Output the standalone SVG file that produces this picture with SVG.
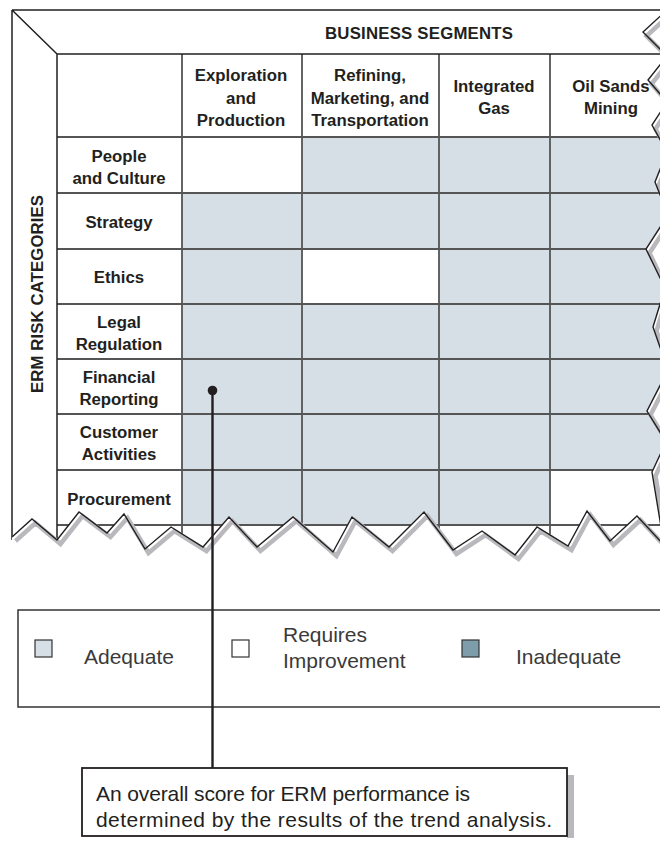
<svg xmlns="http://www.w3.org/2000/svg" width="660" height="851" viewBox="0 0 660 851">
<style>
.b{font-family:"Liberation Sans",Arial,sans-serif;font-weight:bold;font-size:16.8px;fill:#231f20;text-anchor:middle}
.l{font-family:"Liberation Sans",Arial,sans-serif;font-size:21px;fill:#3a3a3a}
.c{font-family:"Liberation Sans",Arial,sans-serif;font-size:21px;fill:#231f20}
.blue{fill:#d5dfe5}
.grid{stroke:#555;stroke-width:1.8;fill:none}
.frame{stroke:#231f20;stroke-width:1.5;fill:none}
.shadow{stroke:#b9b9bd;stroke-width:4.5;fill:none;stroke-linejoin:miter}
.tear{stroke:#231f20;stroke-width:1.4;fill:none;stroke-linejoin:miter}
</style>
<defs>
<path id="tearPath" d="M667,10 L643,32 L667,56 L648,80 L667,102 L652,125 L667,152 L655,182 L668,215 L646,249 L665,288 L653,327 L668,370 L647,411 L666,442 L652,472 L664,545 L637,516 L610,541 L587,511 L568,546 L537,527 L515,555 L482,531 L453,550 L424,512 L389,547 L352,517 L333,552 L293,517 L257,547 L229,517 L203,547 L171,527 L145,549 L124,514 L107,533 L79,512 L57,540 L32,519 L12,537"/>
</defs>
<rect x="0" y="0" width="660" height="851" fill="#fff"/>

<g id="cells">
<rect class="blue" x="302" y="137" width="368" height="56"/>
<rect class="blue" x="182" y="193" width="488" height="56"/>
<rect class="blue" x="182" y="249" width="120" height="55"/>
<rect class="blue" x="439" y="249" width="231" height="55"/>
<rect class="blue" x="182" y="304" width="488" height="166"/>
<rect class="blue" x="182" y="470" width="368" height="55"/>
</g>

<g id="grid">
<path class="grid" d="M182,54 V565 M302,54 V565 M439,54 V565 M550,54 V565"/>
<path class="grid" d="M57,137 H670 M57,193 H670 M57,249 H670 M57,304 H670 M57,359 H670 M57,414 H670 M57,470 H670 M57,525 H670"/>
</g>

<g id="frame">
<path class="frame" d="M12,10 H670 M12,10 V540 M57,54 V565 M57,54 H670 M12,10 L57,54"/>
</g>

<g id="header">
<text class="b" x="419" y="38.5" textLength="188">BUSINESS SEGMENTS</text>
<text class="b" x="241" y="81">Exploration</text>
<text class="b" x="241" y="103.5">and</text>
<text class="b" x="241" y="126">Production</text>
<text class="b" x="370" y="81">Refining,</text>
<text class="b" x="370" y="103.5">Marketing, and</text>
<text class="b" x="370" y="126">Transportation</text>
<text class="b" x="494" y="92">Integrated</text>
<text class="b" x="494" y="114">Gas</text>
<text class="b" x="611" y="92">Oil Sands</text>
<text class="b" x="611" y="114">Mining</text>
</g>

<g id="row-labels">
<text class="b" x="119" y="162">People</text>
<text class="b" x="119" y="184">and Culture</text>
<text class="b" x="119" y="228">Strategy</text>
<text class="b" x="119" y="283">Ethics</text>
<text class="b" x="119" y="328">Legal</text>
<text class="b" x="119" y="350">Regulation</text>
<text class="b" x="119" y="383">Financial</text>
<text class="b" x="119" y="405">Reporting</text>
<text class="b" x="119" y="438">Customer</text>
<text class="b" x="119" y="460">Activities</text>
<text class="b" x="119" y="505">Procurement</text>
<text class="b" x="0" y="0" font-size="17" textLength="198" transform="translate(42.5,294) rotate(-90)">ERM RISK CATEGORIES</text>
</g>

<g id="tear">
<path d="M667,10 L643,32 L667,56 L648,80 L667,102 L652,125 L667,152 L655,182 L668,215 L646,249 L665,288 L653,327 L668,370 L647,411 L666,442 L652,472 L664,545 L637,516 L610,541 L587,511 L568,546 L537,527 L515,555 L482,531 L453,550 L424,512 L389,547 L352,517 L333,552 L293,517 L257,547 L229,517 L203,547 L171,527 L145,549 L124,514 L107,533 L79,512 L57,540 L32,519 L12,537 L12,600 L700,600 L700,10 Z" fill="#fff"/>
<use href="#tearPath" class="shadow" transform="translate(3.5,4)"/>
<use href="#tearPath" class="tear"/>
</g>

<g id="legend">
<rect x="18" y="610" width="660" height="97" fill="#fff" stroke="#333" stroke-width="1.5"/>
<rect x="35" y="640" width="17" height="17" fill="#d5dfe5" stroke="#333" stroke-width="1.2"/>
<text class="l" x="84" y="664">Adequate</text>
<rect x="232" y="640" width="17" height="17" fill="#fff" stroke="#333" stroke-width="1.2"/>
<text class="l" x="283" y="642">Requires</text>
<text class="l" x="283" y="668">Improvement</text>
<rect x="462" y="640" width="17" height="17" fill="#7e9dab" stroke="#333" stroke-width="1.2"/>
<text class="l" x="516" y="664">Inadequate</text>
</g>

<g id="connectors">
<circle cx="212.5" cy="390.5" r="4.8" fill="#231f20"/>
<path d="M212.5,390 V768" stroke="#231f20" stroke-width="2.4" fill="none"/>
</g>

<g id="callout">
<rect x="567" y="775" width="7" height="63" fill="#b9b9bd"/>
<rect x="82" y="768" width="485" height="68" fill="#fff" stroke="#231f20" stroke-width="1.8"/>
<text class="c" x="96" y="801" textLength="374">An overall score for ERM performance is</text>
<text class="c" x="96" y="827" textLength="456">determined by the results of the trend analysis.</text>
</g>
</svg>
